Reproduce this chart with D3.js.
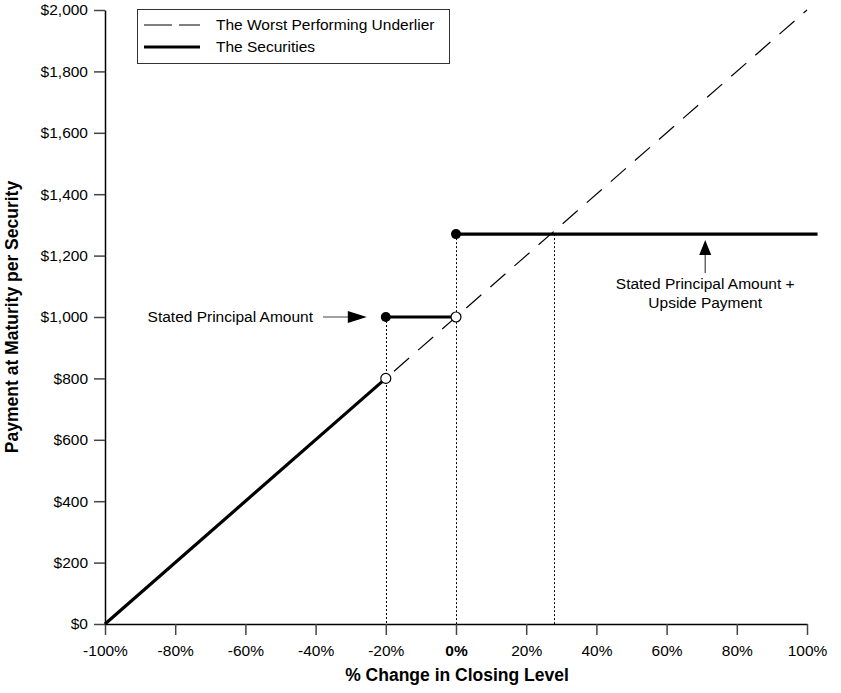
<!DOCTYPE html>
<html>
<head>
<meta charset="utf-8">
<script src="https://cdn.jsdelivr.net/npm/d3@7"></script>
<style>
  body { margin: 0; background: #fff; }
  text { font-family: "Liberation Sans", Arial, sans-serif; fill: #000; }
</style>
</head>
<body>
<div id="chart"></div>
<script>
// ---- data ----
const xTicks = [-100, -80, -60, -40, -20, 0, 20, 40, 60, 80, 100];
const yTicks = [0, 200, 400, 600, 800, 1000, 1200, 1400, 1600, 1800, 2000];

// worst performing underlier (dashed)
const underlierX = [-100, 100];
const underlierY = [0, 2000];

// the securities: three solid pieces
const securitySegments = [
  {x: [-100, -20], y: [0, 800]},
  {x: [-20, 0], y: [1000, 1000]},
  {x: [0, 103], y: [1270, 1270]}
];
const filledPoints = [{x: -20, y: 1000}, {x: 0, y: 1270}];
const openPoints = [{x: -20, y: 800}, {x: 0, y: 1000}];
// dotted drop lines to the x axis
const guideLines = [{x: -20, y: 1000}, {x: 0, y: 1270}, {x: 28, y: 1270}];

const width = 841, height = 693;
const svg = d3.select('#chart').append('svg')
  .attr('width', width)
  .attr('height', height);

const x = d3.scaleLinear().domain([-100, 100]).range([105, 807]);
const y = d3.scaleLinear().domain([0, 2000]).range([624, 10]);

// axes
const xAxis = svg.append('g')
  .attr('transform', 'translate(0,' + y(0) + ')')
  .call(d3.axisBottom(x).tickValues(xTicks).tickSize(11).tickPadding(10)
    .tickFormat(d => d + '%').tickSizeOuter(0));
xAxis.select('.domain').attr('stroke', '#000').attr('stroke-width', 1.5);
xAxis.selectAll('.tick line').attr('stroke', '#444').attr('stroke-width', 1.5);
xAxis.selectAll('.tick text')
  .style('font-size', '15.5px')
  .style('font-family', '"Liberation Sans", Arial, sans-serif')
  .attr('fill', '#000')
  .style('font-weight', d => d === 0 ? 'bold' : 'normal');

const yAxis = svg.append('g')
  .attr('transform', 'translate(' + x(-100) + ',0)')
  .call(d3.axisLeft(y).tickValues(yTicks).tickSize(11).tickPadding(6)
    .tickFormat(d => '$' + d3.format(',')(d)).tickSizeOuter(0));
yAxis.select('.domain').attr('stroke', '#000').attr('stroke-width', 1.5);
yAxis.selectAll('.tick line').attr('stroke', '#444').attr('stroke-width', 1.5);
yAxis.selectAll('.tick text')
  .style('font-size', '15.5px')
  .style('font-family', '"Liberation Sans", Arial, sans-serif')
  .attr('fill', '#000');

// axis titles
svg.append('text')
  .attr('x', 457)
  .attr('y', 681)
  .attr('text-anchor', 'middle')
  .style('font-size', '17.5px')
  .style('font-weight', 'bold')
  .text('% Change in Closing Level');

svg.append('text')
  .attr('transform', 'translate(18,317) rotate(-90)')
  .attr('text-anchor', 'middle')
  .style('font-size', '17.5px')
  .style('font-weight', 'bold')
  .text('Payment at Maturity per Security');

// dotted guides
svg.selectAll('.guide')
  .data(guideLines)
  .enter().append('line')
    .attr('class', 'guide')
    .attr('x1', d => Math.round(x(d.x)) + 0.5).attr('x2', d => Math.round(x(d.x)) + 0.5)
    .attr('y1', d => y(d.y)).attr('y2', y(0))
    .attr('stroke', '#000')
    .attr('stroke-width', 1)
    .attr('stroke-dasharray', '2,2');

// underlier dashed line
const line = d3.line().x(d => x(d[0])).y(d => y(d[1]));
svg.append('path')
  .datum(underlierX.map((v, i) => [v, underlierY[i]]))
  .attr('d', line)
  .attr('fill', 'none')
  .attr('stroke', '#000')
  .attr('stroke-width', 1.2)
  .attr('stroke-dasharray', '20,12');

// securities
svg.selectAll('.sec')
  .data(securitySegments)
  .enter().append('path')
    .attr('class', 'sec')
    .attr('d', d => line(d.x.map((v, i) => [v, d.y[i]])))
    .attr('fill', 'none')
    .attr('stroke', '#000')
    .attr('stroke-width', 3.2);

svg.selectAll('.open')
  .data(openPoints)
  .enter().append('circle')
    .attr('cx', d => x(d.x)).attr('cy', d => y(d.y))
    .attr('r', 5)
    .attr('fill', '#fff')
    .attr('stroke', '#000')
    .attr('stroke-width', 1.2);

svg.selectAll('.filled')
  .data(filledPoints)
  .enter().append('circle')
    .attr('cx', d => x(d.x)).attr('cy', d => y(d.y))
    .attr('r', 5)
    .attr('fill', '#000');

// annotations
function arrowHead(tipX, tipY, dir) {
  // dir: 'right' or 'up'
  let pts;
  if (dir === 'right') pts = [[tipX, tipY], [tipX - 19, tipY - 6], [tipX - 19, tipY + 6]];
  else pts = [[tipX, tipY], [tipX - 6, tipY + 15], [tipX + 6, tipY + 15]];
  svg.append('polygon')
    .attr('points', pts.map(p => p.join(',')).join(' '))
    .attr('fill', '#000');
}

const ax1 = x(-20) - 19, ay1 = y(1000);
svg.append('line')
  .attr('x1', 323).attr('x2', ax1 - 10)
  .attr('y1', ay1).attr('y2', ay1)
  .attr('stroke', '#444').attr('stroke-width', 1.2);
arrowHead(ax1, ay1, 'right');
svg.append('text')
  .attr('x', 313).attr('y', ay1 + 5)
  .attr('text-anchor', 'end')
  .style('font-size', '15.5px')
  .text('Stated Principal Amount');

const ax2 = x(71), ay2 = y(1270) + 6;
svg.append('line')
  .attr('x1', ax2).attr('x2', ax2)
  .attr('y1', ay2 + 10).attr('y2', 273)
  .attr('stroke', '#444').attr('stroke-width', 1.2);
arrowHead(ax2, ay2, 'up');
svg.append('text')
  .attr('x', ax2).attr('y', 289)
  .attr('text-anchor', 'middle')
  .style('font-size', '15.5px')
  .text('Stated Principal Amount +');
svg.append('text')
  .attr('x', ax2).attr('y', 308)
  .attr('text-anchor', 'middle')
  .style('font-size', '15.5px')
  .text('Upside Payment');

// legend
const legend = svg.append('g');
legend.append('rect')
  .attr('x', 137.5).attr('y', 9.5)
  .attr('width', 312).attr('height', 54)
  .attr('fill', '#fff')
  .attr('stroke', '#333')
  .attr('stroke-width', 1);
const legendItems = [
  {label: 'The Worst Performing Underlier', dash: '28,7', w: 1.2},
  {label: 'The Securities', dash: null, w: 3.2}
];
legendItems.forEach((d, i) => {
  const ly = 25 + i * 22;
  legend.append('line')
    .attr('x1', 144).attr('x2', 200)
    .attr('y1', ly).attr('y2', ly)
    .attr('stroke', '#000')
    .attr('stroke-width', d.w)
    .attr('stroke-dasharray', d.dash);
  legend.append('text')
    .attr('x', 216).attr('y', ly + 5)
    .style('font-size', '15.5px')
    .text(d.label);
});
</script>
</body>
</html>
